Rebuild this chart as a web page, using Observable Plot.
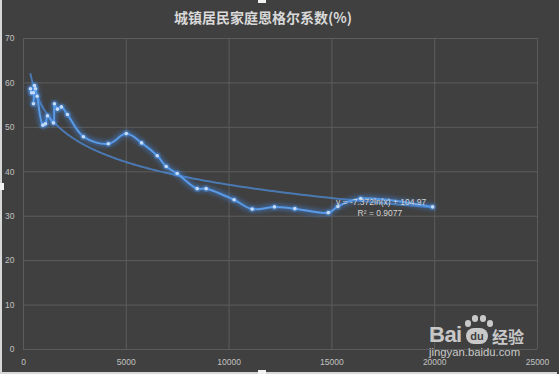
<!DOCTYPE html>
<html>
<head>
<meta charset="utf-8">
<script src="https://cdn.jsdelivr.net/npm/d3@7"></script>
<script src="https://cdn.jsdelivr.net/npm/@observablehq/plot@0.6"></script>
<style>
  html, body { margin: 0; padding: 0; background: #404040; }
  #wrap { position: relative; width: 559px; height: 374px; background: #404040; overflow: hidden; }
  #title { position: absolute; left: 0; width: 526px; top: 7px; text-align: center;
           font-family: "Noto Sans CJK SC", sans-serif; font-weight: bold; font-size: 14px; color: #d9d9d9; }
  #chart { position: absolute; left: 0; top: 0; }
  .edgeL { position: absolute; left: 0; top: 0; width: 2px; height: 374px; background: #d8d8d8; }
  .edgeB { position: absolute; left: 0; top: 372px; width: 557px; height: 2px; background: #d8d8d8; }
  .handle { position: absolute; background: #f2f2f2; }
  .wm { position: absolute; color: rgba(232,232,232,0.82); white-space: nowrap; line-height: 1; }
  #wm1 { left: 429px; top: 324px; height: 22px; font-family: "Liberation Sans", sans-serif; font-weight: bold; font-size: 22px; letter-spacing: -0.5px; }
  #wm2 { left: 429px; top: 347px; height: 11px; font-family: "Liberation Sans", sans-serif; font-size: 11.3px; }
  #wm3 { left: 492px; top: 328px; height: 16px; font-family: "Noto Sans CJK SC", sans-serif; font-weight: bold; font-size: 16px; }
  #paw { position: absolute; left: 466px; top: 328px; width: 22px; height: 16px; border-radius: 8px;
         background: rgba(232,232,232,0.82); color: #404040; font-family: "Liberation Sans", sans-serif;
         font-weight: bold; font-size: 11px; text-align: center; line-height: 17px; }
  .toe { position: absolute; width: 6px; height: 7px; border-radius: 3px; background: rgba(232,232,232,0.82); }
</style>
</head>
<body>
<div id="wrap">
  <div id="chart"></div>
  <div id="title">城镇居民家庭恩格尔系数(%)</div>
  <div class="wm" id="wm1">Bai</div>
  <div class="toe" style="left:465px;top:320px;"></div>
  <div class="toe" style="left:472px;top:315px;"></div>
  <div class="toe" style="left:480px;top:315px;"></div>
  <div class="toe" style="left:487px;top:320px;"></div>
  <div id="paw">du</div>
  <div class="wm" id="wm3">经验</div>
  <div class="wm" id="wm2">jingyan.baidu.com</div>
  <div class="edgeL"></div>
  <div class="edgeB"></div>
  <div class="handle" style="left:0;top:183px;width:4px;height:7px;"></div>
  <div class="handle" style="left:258px;top:370px;width:8px;height:4px;"></div>
  <div class="handle" style="left:258px;top:0;width:8px;height:3px;"></div>
</div>
<script>
// Per-capita disposable income (x) and Engel coefficient % (y)
const income = [340, 390, 485, 485, 535, 585, 665, 940, 1070, 1165, 1456, 1505, 1650, 1845, 2136,
                2913, 4126, 5000, 5745, 6505, 6942, 7476, 8447, 8884, 10243, 11121, 12204, 13200,
                14825, 15291, 16400, 19900];
const engel = [58.7, 57.8, 57.8, 55.3, 59.4, 58.7, 57.0, 50.5, 50.8, 52.6, 51.0, 55.3, 54.1, 54.6, 52.9,
               47.9, 46.3, 48.6, 46.5, 43.6, 41.2, 39.6, 36.2, 36.2, 33.7, 31.6, 32.1, 31.7,
               30.8, 32.2, 34.0, 32.1];
// Logarithmic trendline shown in the chart: y = a*ln(x) + b
const trendA = -7.372;
const trendB = 104.97;
const trendLabel = ["y = -7.372ln(x) + 104.97", "R² = 0.9077"];
const trendLabelX = [15200, 16250];
const trendLabelY = [33.1, 30.6];
const xTicks = [0, 5000, 10000, 15000, 20000, 25000];
const yTicks = [0, 10, 20, 30, 40, 50, 60, 70];

const data = income.map((x, i) => ({x, y: engel[i]}));
const xMin = d3.min(income), xMax = d3.max(income);
const trend = d3.range(0, 201).map(i => {
  const x = xMin * Math.pow(xMax / xMin, i / 200);
  return {x, y: trendA * Math.log(x) + trendB};
});
const labels = trendLabel.map((t, i) => ({t, x: trendLabelX[i], y: trendLabelY[i]}));

const plot = Plot.plot({
  width: 559,
  height: 374,
  marginLeft: 23,
  marginRight: 22,
  marginTop: 38,
  marginBottom: 25,
  style: {background: "transparent", color: "#c0c0c0", fontFamily: "Liberation Sans, sans-serif", fontSize: "8.5px"},
  x: {domain: [0, 25000], ticks: xTicks, tickSize: 0, tickPadding: 9, tickFormat: d => String(d), label: null},
  y: {domain: [0, 70], ticks: yTicks, tickSize: 0, tickPadding: 9, tickFormat: d => String(d), label: null},
  marks: [
    Plot.ruleY(yTicks, {stroke: "#5c5c5c", strokeWidth: 1}),
    Plot.ruleX(xTicks, {stroke: "#5c5c5c", strokeWidth: 1}),
    Plot.line(trend, {x: "x", y: "y", stroke: "#4a78b0", strokeWidth: 2}),
    Plot.line(data, {x: "x", y: "y", stroke: "#3f8cf0", strokeWidth: 6, strokeOpacity: 0.45, curve: "catmull-rom"}),
    Plot.line(data, {x: "x", y: "y", stroke: "#5a9be8", strokeWidth: 2, curve: "catmull-rom"}),
    Plot.dot(data, {x: "x", y: "y", r: 3.5, fill: "#4a94f0", fillOpacity: 0.35}),
    Plot.dot(data, {x: "x", y: "y", r: 1.8, fill: "#c4dcf8"}),
    Plot.text(labels, {x: "x", y: "y", text: "t", textAnchor: "start", fill: "#d4d4d4", fontSize: 8.5})
  ]
});
// soft glow under the data line
try {
  const ns = "http://www.w3.org/2000/svg";
  const defs = document.createElementNS(ns, "defs");
  const filter = document.createElementNS(ns, "filter");
  filter.setAttribute("id", "glow");
  filter.setAttribute("x", "-10%"); filter.setAttribute("y", "-10%");
  filter.setAttribute("width", "120%"); filter.setAttribute("height", "120%");
  const blur = document.createElementNS(ns, "feGaussianBlur");
  blur.setAttribute("stdDeviation", "2.2");
  filter.appendChild(blur);
  defs.appendChild(filter);
  plot.insertBefore(defs, plot.firstChild);
  const lines = plot.querySelectorAll('g[aria-label="line"]');
  if (lines.length >= 2) lines[1].setAttribute("filter", "url(#glow)");
} catch (e) {}
document.getElementById("chart").appendChild(plot);
</script>
</body>
</html>
